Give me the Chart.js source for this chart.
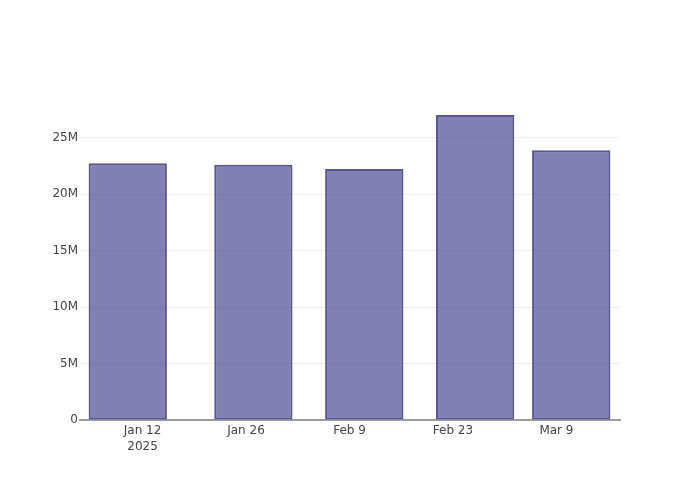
<!DOCTYPE html>
<html>
<head>
<meta charset="utf-8">
<script src="https://cdn.jsdelivr.net/npm/chart.js@4"></script>
<style>
html,body{margin:0;padding:0;background:#fff;}
#c{display:block;}
</style>
</head>
<body>
<canvas id="c" width="700" height="500"></canvas>
<script>
// Days counted from Jan 1, 2025 (day 0 = Jan 1)
const barDates = [9, 26, 41, 56, 69];            // Jan 10, Jan 27, Feb 11, Feb 26, Mar 11
const barValues = [22.72e6, 22.6e6, 22.22e6, 27.0e6, 23.87e6];
const xTickDays = [11, 25, 39, 53, 67];
const xTickLabels = [["Jan 12", "2025"], "Jan 26", "Feb 9", "Feb 23", "Mar 9"];
const xRange = [2.54, 75.6];
const yMax = 28.32e6;

const points = barDates.map((d, i) => ({ x: d, y: barValues[i] }));
const FONT = "'DejaVu Sans', sans-serif";

new Chart(document.getElementById('c'), {
  type: 'bar',
  data: {
    datasets: [{
      data: points,
      backgroundColor: 'rgba(50,50,130,0.62)',
      borderColor: 'rgba(72,72,145,0.92)',
      borderWidth: 2,
      borderSkipped: false,
      barPercentage: 0.815,
      categoryPercentage: 1.0
    }]
  },
  options: {
    responsive: false,
    animation: false,
    layout: { padding: { left: 0, right: 80, top: 100, bottom: 0 } },
    plugins: { legend: { display: false }, tooltip: { enabled: false } },
    scales: {
      x: {
        type: 'linear',
        offset: false,
        min: xRange[0],
        max: xRange[1],
        afterBuildTicks: (axis) => { axis.ticks = xTickDays.map(v => ({ value: v })); },
        afterFit: (axis) => { axis.height = 80; },
        grid: { display: false, drawTicks: false },
        border: { display: true, color: '#9c9c9c', width: 2 },
        ticks: {
          autoSkip: false,
          maxRotation: 0,
          padding: 3,
          color: '#444',
          font: { family: FONT, size: 12, lineHeight: 1.333 },
          callback: (v) => {
            const i = xTickDays.indexOf(v);
            return i >= 0 ? xTickLabels[i] : '';
          }
        }
      },
      y: {
        min: 0,
        max: yMax,
        afterBuildTicks: (axis) => {
          const t = [];
          for (let v = 0; v <= yMax; v += 5e6) t.push({ value: v });
          axis.ticks = t;
        },
        afterFit: (axis) => { axis.width = 80; },
        grid: { color: '#eeeeee', lineWidth: 1, drawTicks: false },
        border: { display: false },
        ticks: {
          padding: 2,
          color: '#444',
          font: { family: FONT, size: 12 },
          callback: (v) => v === 0 ? '0' : (v / 1e6) + 'M'
        }
      }
    }
  }
});
</script>
</body>
</html>
